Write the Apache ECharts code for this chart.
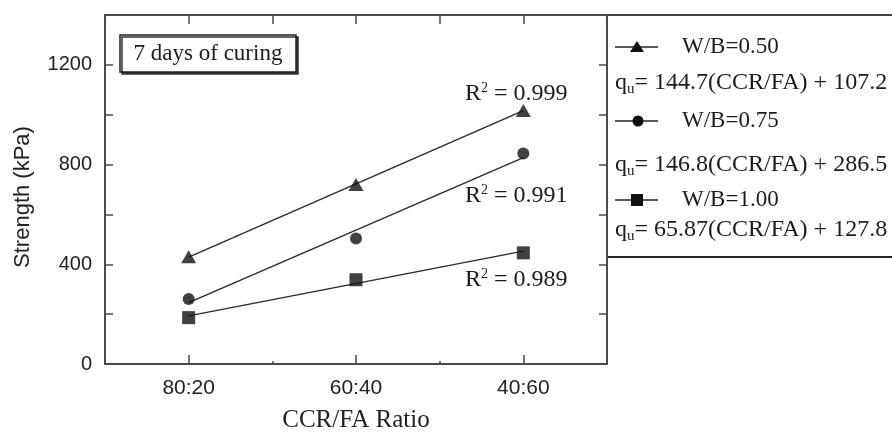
<!DOCTYPE html>
<html>
<head>
<meta charset="utf-8">
<script src="https://cdn.jsdelivr.net/npm/echarts@6/dist/echarts.min.js"></script>
<style>
html,body{margin:0;padding:0;background:#fff;}
#chart{width:892px;height:433px;}
</style>
</head>
<body>
<div id="chart"></div>
<script>
// ---- data ----
const categories = ['80:20', '60:40', '40:60'];
const catPositions = [1, 2, 3];
const yLabelTicks = [0, 400, 800, 1200];
const seriesNames = ['W/B=0.50', 'W/B=0.75', 'W/B=1.00'];
const wb050 = [430, 720, 1017];
const wb075 = [261, 503, 844];
const wb100 = [186, 338, 446];
const fit050 = [429, 1016];
const fit075 = [246, 828];
const fit100 = [193, 453];
const equations = ['144.7(CCR/FA) + 107.2', '146.8(CCR/FA) + 286.5', '65.87(CCR/FA) + 127.8'];
const r2Values = ['0.999', '0.991', '0.989'];
const boxLabel = '7 days of curing';

const SERIF = 'Liberation Serif';
const SANS = 'Liberation Sans';
const INK = '#1b1b1b';
const AX = '#4a4a4a';

const chart = echarts.init(document.getElementById('chart'), null, {renderer: 'canvas'});

function pts(vals) { return vals.map((v, i) => [catPositions[i], v]); }
function fitPts(f) { return [[catPositions[0], f[0]], [catPositions[2], f[1]]]; }

const symbols = ['triangle', 'circle', 'rect'];
const symSizes = [[15, 13], 12, 13];
const dataSets = [wb050, wb075, wb100];
const fits = [fit050, fit075, fit100];

const series = [];
fits.forEach((f, i) => {
  series.push({
    type: 'line', data: fitPts(f), showSymbol: false, symbol: 'none',
    lineStyle: {color: '#2a2a2a', width: 1.4}, silent: true, z: 2
  });
});
dataSets.forEach((d, i) => {
  series.push({
    type: 'scatter', name: seriesNames[i], data: pts(d),
    symbol: symbols[i], symbolSize: symSizes[i],
    itemStyle: {color: '#111'}, z: 3
  });
});

const legendRowsY = [47, 121, 200];
const eqY = [83, 165, 230];
const graphics = [];
// legend box lines
graphics.push({type: 'line', shape: {x1: 607, y1: 15, x2: 892, y2: 15}, style: {stroke: '#444', lineWidth: 2}});
graphics.push({type: 'line', shape: {x1: 607, y1: 257, x2: 892, y2: 257}, style: {stroke: '#222', lineWidth: 2}});
legendRowsY.forEach((y, i) => {
  graphics.push({type: 'line', shape: {x1: 615, y1: y, x2: 658, y2: y}, style: {stroke: '#222', lineWidth: 1.4}});
  if (i === 0) {
    graphics.push({type: 'polygon', shape: {points: [[637, y - 6], [644, y + 5], [630, y + 5]]}, style: {fill: '#111'}});
  } else if (i === 1) {
    graphics.push({type: 'circle', shape: {cx: 638, cy: y, r: 5.5}, style: {fill: '#111'}});
  } else {
    graphics.push({type: 'rect', shape: {x: 631, y: y - 6, width: 12, height: 12}, style: {fill: '#111'}});
  }
  graphics.push({type: 'text', x: 682, y: y, style: {text: seriesNames[i], font: '23px ' + SERIF, fill: INK, verticalAlign: 'middle', align: 'left'}});
  graphics.push({type: 'text', x: 615, y: eqY[i], style: {
    text: '{q|q}{u|u}{t|= ' + equations[i] + '}',
    verticalAlign: 'middle', align: 'left',
    rich: {
      q: {font: '24px ' + SERIF, fill: INK},
      u: {font: '15px ' + SERIF, fill: INK, padding: [12, 0, 0, 0]},
      t: {font: '24px ' + SERIF, fill: INK}
    }
  }});
});
// R² labels
const r2Pos = [[465, 94], [465, 196], [465, 280]];
r2Values.forEach((v, i) => {
  graphics.push({type: 'text', x: r2Pos[i][0], y: r2Pos[i][1], style: {
    text: '{r|R}{s|2}{r| = ' + v + '}',
    verticalAlign: 'middle', align: 'left',
    rich: {
      r: {font: '24px ' + SERIF, fill: INK},
      s: {font: '14px ' + SERIF, fill: INK, padding: [0, 0, 12, 0]}
    }
  }});
});
// curing box
graphics.push({type: 'rect', shape: {x: 120, y: 35, width: 176, height: 37},
  style: {fill: '#fff', stroke: '#222', lineWidth: 1.5, shadowColor: '#333', shadowOffsetX: 2, shadowOffsetY: 2, shadowBlur: 0}, z: 10});
graphics.push({type: 'text', x: 208, y: 54, z: 11, style: {text: boxLabel, font: '23px ' + SERIF, fill: INK, align: 'center', verticalAlign: 'middle'}});
// y axis title
graphics.push({type: 'text', x: 23, y: 197, rotation: Math.PI / 2, style: {text: 'Strength (kPa)', font: '22px ' + SANS, fill: '#222', align: 'center', verticalAlign: 'middle'}});

const axisLineStyle = {color: AX, width: 2};

const option = {
  animation: false,
  backgroundColor: '#fff',
  grid: {left: 105, right: 285, top: 15, bottom: 69, containLabel: false, outerBoundsMode: 'none'},
  xAxis: [
    {
      type: 'value', position: 'bottom', min: 0.5, max: 3.5, interval: 0.5,
      axisLine: {show: true, lineStyle: axisLineStyle},
      axisTick: {show: true, inside: true, length: 9, customValues: catPositions, lineStyle: {color: AX, width: 1.5}},
      axisLabel: {customValues: catPositions, formatter: v => categories[Math.round(v) - 1] || '', margin: 14,
        fontFamily: SANS, fontSize: 21, color: '#222'},
      splitLine: {show: false},
      name: 'CCR/FA Ratio', nameLocation: 'middle', nameGap: 44,
      nameTextStyle: {fontFamily: SERIF, fontSize: 25, color: '#222'}
    },
    {
      type: 'value', position: 'bottom', min: 0.5, max: 3.5, interval: 0.5,
      axisLine: {show: false},
      axisTick: {show: true, inside: true, length: 3, customValues: [1.5, 2.5], lineStyle: {color: AX, width: 1.5}},
      axisLabel: {show: false}, splitLine: {show: false}
    },
    {
      type: 'value', position: 'top', min: 0.5, max: 3.5, interval: 0.5,
      axisLine: {show: true, lineStyle: axisLineStyle},
      axisTick: {show: true, inside: true, length: 9, lineStyle: {color: AX, width: 1.5}},
      axisLabel: {show: false}, splitLine: {show: false}
    }
  ],
  yAxis: [
    {
      type: 'value', position: 'left', min: 0, max: 1400, interval: 200,
      axisLine: {show: true, lineStyle: axisLineStyle},
      axisTick: {show: true, inside: true, length: 8, lineStyle: {color: AX, width: 1.5}},
      axisLabel: {formatter: v => (yLabelTicks.indexOf(v) >= 0 ? String(v) : ''), margin: 13,
        fontFamily: SANS, fontSize: 20, color: '#222'},
      splitLine: {show: false}
    },
    {
      type: 'value', position: 'right', min: 0, max: 1400, interval: 200,
      axisLine: {show: true, lineStyle: axisLineStyle},
      axisTick: {show: true, inside: true, length: 8, lineStyle: {color: AX, width: 1.5}},
      axisLabel: {show: false}, splitLine: {show: false}
    }
  ],
  series: series,
  graphic: graphics
};
chart.setOption(option);
</script>
</body>
</html>
